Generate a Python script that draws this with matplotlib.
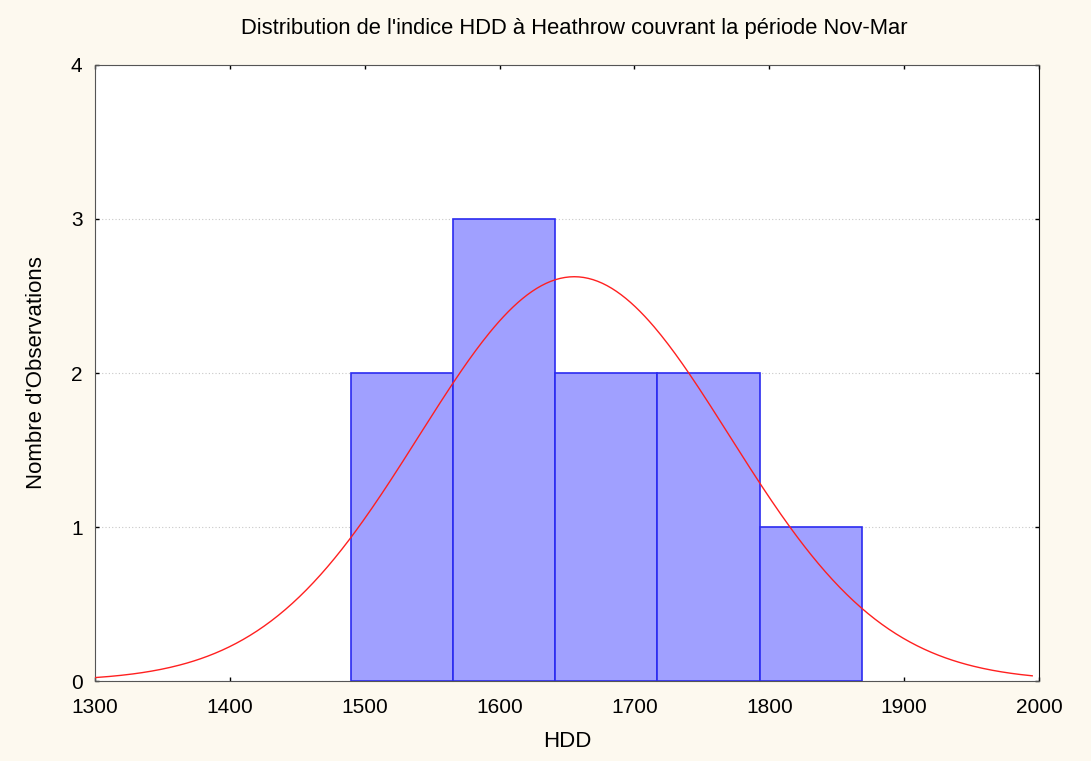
import numpy as np
import matplotlib.pyplot as plt

# Histogram of the HDD index at Heathrow (Nov-Mar), with fitted normal curve
bin_edges = [1489.8, 1565.5, 1641.3, 1717.0, 1792.8, 1868.5]
counts = [2, 3, 2, 2, 1]

# fitted normal parameters
fit_mean = 1655.4
fit_sd = 115.1
n_obs = sum(counts)

x_ticks = [1300, 1400, 1500, 1600, 1700, 1800, 1900, 2000]
y_ticks = [0, 1, 2, 3, 4]

plt.rcParams["font.family"] = ["Liberation Sans", "DejaVu Sans"]

bg = "#fdf9ef"
fig = plt.figure(figsize=(10.91, 7.61), dpi=100, facecolor=bg)
ax = fig.add_axes([0.0871, 0.1051, 0.8652, 0.8095])
ax.set_facecolor("white")

widths = np.diff(bin_edges)
ax.bar(
    bin_edges[:-1],
    counts,
    width=widths,
    align="edge",
    color="#a0a0ff",
    edgecolor="#2b2bf0",
    linewidth=1.2,
    zorder=2,
)

bin_width = widths.mean()
xs = np.linspace(1300, 1995, 400)
ys = n_obs * bin_width / (fit_sd * np.sqrt(2 * np.pi)) * np.exp(-0.5 * ((xs - fit_mean) / fit_sd) ** 2)
ax.plot(xs, ys, color="#ff2020", linewidth=1.0, zorder=3)

ax.set_xlim(1300, 2000)
ax.set_ylim(0, 4)
ax.set_xticks(x_ticks)
ax.set_yticks(y_ticks)
ax.yaxis.grid(True, linestyle=(0, (1, 2)), color="#c8c8c8", linewidth=0.8, zorder=1)

ax.tick_params(direction="in", length=3, width=1, labelsize=15, top=True, right=True)
ax.tick_params(axis="x", pad=12)
ax.tick_params(axis="y", pad=9)
for side in ["left", "bottom", "top"]:
    ax.spines[side].set_color("#555555")
ax.spines["right"].set_color("#111111")

ax.set_title("Distribution de l'indice HDD à Heathrow couvrant la période Nov-Mar",
             fontsize=15.8, pad=22, x=0.508)
ax.set_xlabel("HDD", fontsize=16, labelpad=10)
ax.set_ylabel("Nombre d'Observations", fontsize=16, labelpad=17)

fig.savefig("out.png", dpi=100, facecolor=bg)
